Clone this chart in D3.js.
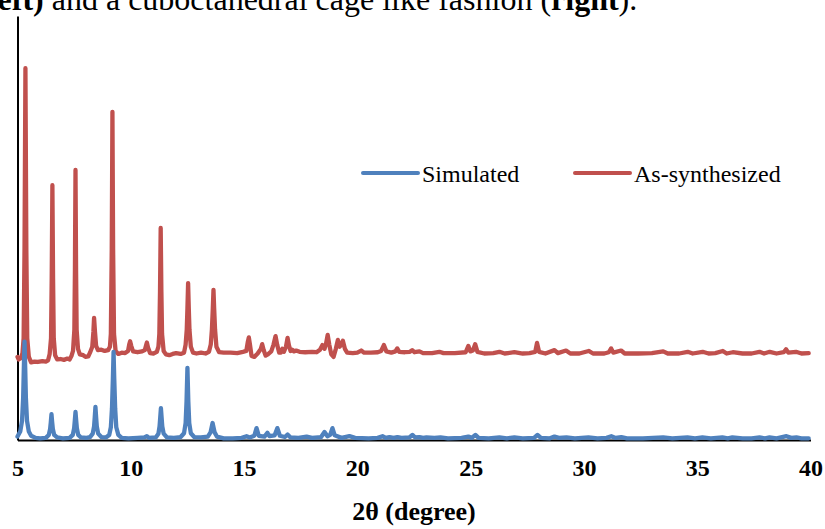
<!DOCTYPE html>
<html>
<head>
<meta charset="utf-8">
<script src="https://cdn.jsdelivr.net/npm/d3@7"></script>
<style>
  html, body { margin: 0; padding: 0; background: #fff; overflow: hidden; }
  svg { display: block; }
</style>
</head>
<body>
<svg id="chart" width="825" height="529"></svg>
<script>
// Powder XRD patterns: 2θ (degrees) vs. intensity (arbitrary units, stacked)
const seriesNames = ["Simulated", "As-synthesized"];
const seriesColors = ["#4F81BD", "#C0504D"];
const xTicks = [5, 10, 15, 20, 25, 30, 35, 40];
const xTitle = "2θ (degree)";

// Simulated pattern [2θ, intensity]
const simulated = [
  [5.00, 0.8], [5.12, 2.0], [5.20, 4.5], [5.25, 10], [5.28, 17], [5.31, 23.2], [5.34, 17], [5.37, 10],
  [5.42, 4.5], [5.50, 2.0], [5.60, 1.0], [5.80, 0.5], [6.00, 0.4], [6.25, 0.5], [6.38, 1.2], [6.44, 2.6],
  [6.47, 4.2], [6.50, 6.1], [6.53, 4.2], [6.56, 2.6], [6.62, 1.2], [6.75, 0.6], [7.00, 0.4], [7.30, 0.5],
  [7.44, 1.2], [7.50, 2.8], [7.53, 4.6], [7.56, 6.6], [7.59, 4.6], [7.62, 2.8], [7.68, 1.2], [7.80, 0.6],
  [8.05, 0.5], [8.20, 0.7], [8.32, 1.5], [8.38, 3.2], [8.41, 5.4], [8.44, 7.8], [8.47, 5.4], [8.50, 3.2],
  [8.56, 1.5], [8.70, 0.7], [8.90, 0.6], [9.05, 1.2], [9.12, 3.0], [9.17, 7.5], [9.21, 14.5], [9.24, 20.8],
  [9.27, 14.5], [9.31, 7.5], [9.36, 3.0], [9.45, 1.2], [9.60, 0.5], [9.90, 0.4], [10.30, 0.5], [10.60, 0.6],
  [10.71, 0.9], [10.80, 0.5], [11.10, 0.6], [11.22, 1.5], [11.27, 3.2], [11.30, 5.3], [11.33, 7.5], [11.36, 5.3],
  [11.39, 3.2], [11.45, 1.5], [11.60, 0.6], [11.90, 0.5], [12.20, 0.7], [12.35, 1.6], [12.42, 4.0], [12.46, 9.0],
  [12.50, 17.0], [12.54, 9.0], [12.58, 4.0], [12.65, 1.6], [12.80, 0.7], [13.10, 0.6], [13.40, 0.8], [13.52, 1.8],
  [13.57, 3.0], [13.61, 4.0], [13.65, 3.0], [13.70, 1.8], [13.80, 0.8], [14.10, 0.4], [14.50, 0.4], [14.90, 0.5],
  [15.11, 0.9], [15.25, 0.6], [15.45, 1.0], [15.55, 2.8], [15.65, 1.0], [15.90, 0.8], [16.03, 1.7], [16.12, 0.9],
  [16.35, 1.1], [16.47, 2.8], [16.58, 1.0], [16.80, 0.7], [16.92, 1.3], [17.05, 0.6], [17.40, 0.5], [17.76, 0.8],
  [18.00, 0.5], [18.40, 0.7], [18.55, 1.9], [18.68, 0.9], [18.80, 1.2], [18.90, 2.8], [19.00, 1.1], [19.30, 0.5],
  [19.65, 0.9], [19.90, 0.5], [20.50, 0.4], [20.90, 0.5], [21.11, 0.9], [21.25, 0.5], [21.42, 0.7], [21.60, 0.5],
  [21.77, 0.7], [21.95, 0.5], [22.30, 0.6], [22.43, 1.2], [22.55, 0.6], [22.74, 0.7], [22.90, 0.5], [23.05, 0.6],
  [23.40, 0.5], [23.67, 0.6], [24.00, 0.4], [24.60, 0.5], [24.90, 0.8], [25.05, 0.5], [25.21, 1.2], [25.35, 0.5],
  [25.80, 0.4], [26.27, 0.6], [26.60, 0.4], [26.93, 0.6], [27.30, 0.4], [27.80, 0.5], [27.95, 1.2], [28.10, 0.5],
  [28.50, 0.4], [28.70, 0.8], [28.90, 0.5], [29.23, 0.6], [29.60, 0.4], [30.20, 0.6], [30.60, 0.4], [31.00, 0.5],
  [31.21, 0.9], [31.40, 0.5], [31.65, 0.7], [31.90, 0.4], [32.60, 0.4], [33.50, 0.6], [33.90, 0.4], [34.57, 0.6],
  [34.90, 0.4], [35.23, 0.6], [35.60, 0.4], [36.11, 0.6], [36.35, 0.4], [36.55, 0.6], [37.00, 0.4], [37.40, 0.4],
  [37.75, 0.6], [38.00, 0.4], [38.19, 0.6], [38.50, 0.4], [38.94, 0.9], [39.15, 0.5], [39.38, 0.6], [39.60, 0.4],
  [39.92, 0.4]
];

// As-synthesized pattern [2θ, intensity], offset above the simulated trace
const asSynthesized = [
  [5.00, 19.6], [5.05, 19.0], [5.15, 19.3], [5.22, 20.5], [5.27, 24], [5.31, 45], [5.35, 87.7], [5.39, 45],
  [5.43, 24], [5.50, 19.6], [5.60, 18.3], [5.75, 18.5], [5.90, 18.4], [6.10, 18.6], [6.25, 18.5], [6.35, 18.8],
  [6.42, 20.3], [6.48, 24], [6.51, 38], [6.54, 60.1], [6.57, 38], [6.60, 24], [6.66, 20.0], [6.75, 19.0],
  [6.90, 19.1], [7.05, 18.9], [7.20, 19.2], [7.30, 19.0], [7.38, 19.8], [7.45, 21.0], [7.51, 26], [7.535, 40],
  [7.56, 63.7], [7.585, 40], [7.61, 26], [7.67, 21.5], [7.75, 20.2], [7.90, 20.0], [8.00, 19.6], [8.12, 19.7],
  [8.20, 20.6], [8.30, 22.0], [8.35, 25.5], [8.38, 28.8], [8.42, 25.5], [8.47, 22.2], [8.55, 21.2], [8.70, 21.3],
  [8.85, 21.0], [9.00, 21.2], [9.08, 22.0], [9.12, 25], [9.16, 45], [9.19, 77.4], [9.22, 45], [9.26, 25],
  [9.33, 21.0], [9.45, 20.3], [9.60, 20.6], [9.75, 20.5], [9.88, 21.0], [9.93, 22.5], [9.97, 23.3], [10.02, 22.2],
  [10.10, 20.9], [10.30, 20.7], [10.50, 20.9], [10.62, 21.2], [10.67, 22.2], [10.71, 23.0], [10.76, 21.8], [10.85, 20.5],
  [11.00, 20.4], [11.15, 20.8], [11.22, 22.0], [11.26, 25], [11.29, 35], [11.32, 50.0], [11.35, 35], [11.38, 25],
  [11.45, 21.0], [11.55, 20.2], [11.70, 20.0], [11.85, 20.3], [12.00, 20.5], [12.20, 20.3], [12.35, 20.6], [12.42, 22.5],
  [12.47, 26], [12.50, 31], [12.53, 37.0], [12.56, 31], [12.59, 26], [12.65, 22.0], [12.75, 20.6], [12.90, 20.4],
  [13.10, 20.6], [13.30, 20.4], [13.45, 20.8], [13.53, 22.5], [13.58, 26], [13.62, 31], [13.65, 35.4], [13.68, 31],
  [13.72, 26], [13.78, 22.0], [13.90, 20.7], [14.10, 20.6], [14.40, 20.6], [14.70, 20.5], [14.95, 20.8], [15.10, 21.0],
  [15.16, 23.0], [15.21, 24.2], [15.26, 22.5], [15.33, 19.8], [15.45, 19.6], [15.60, 20.4], [15.74, 21.5], [15.80, 22.6],
  [15.86, 21.3], [15.95, 19.9], [16.05, 20.2], [16.20, 20.9], [16.30, 22.5], [16.39, 24.5], [16.46, 22.5], [16.55, 20.6],
  [16.62, 20.6], [16.69, 21.5], [16.76, 20.8], [16.85, 22.0], [16.92, 24.1], [16.98, 22.3], [17.05, 21.0], [17.12, 21.3],
  [17.20, 20.9], [17.30, 21.1], [17.45, 20.8], [17.70, 20.7], [18.00, 20.8], [18.20, 20.7], [18.35, 21.3], [18.46, 22.4],
  [18.55, 21.5], [18.62, 22.8], [18.69, 24.8], [18.76, 22.5], [18.85, 20.2], [18.95, 19.6], [19.05, 21.5], [19.14, 23.6],
  [19.22, 22.0], [19.28, 22.4], [19.36, 23.4], [19.45, 21.5], [19.55, 20.6], [19.80, 20.5], [20.00, 20.6], [20.17, 21.1],
  [20.30, 20.6], [20.60, 20.6], [20.90, 20.7], [21.05, 21.0], [21.17, 22.4], [21.28, 20.9], [21.50, 20.6], [21.68, 20.9],
  [21.76, 21.6], [21.85, 20.8], [22.10, 20.7], [22.32, 20.8], [22.42, 21.2], [22.52, 20.7], [22.74, 20.9], [22.90, 20.5],
  [23.30, 20.5], [23.62, 20.8], [23.80, 20.5], [24.30, 20.5], [24.78, 20.7], [24.90, 22.2], [24.99, 20.9], [25.10, 21.1],
  [25.20, 22.6], [25.30, 20.8], [25.60, 20.4], [26.00, 20.5], [26.27, 20.8], [26.50, 20.4], [26.93, 20.7], [27.30, 20.4],
  [27.60, 20.5], [27.85, 20.8], [27.93, 22.9], [28.02, 20.8], [28.30, 20.4], [28.70, 21.2], [28.85, 20.5], [29.21, 21.1],
  [29.40, 20.4], [29.80, 20.4], [30.21, 21.0], [30.40, 20.4], [30.90, 20.4], [31.10, 20.7], [31.20, 21.6], [31.30, 20.6],
  [31.64, 21.1], [31.80, 20.4], [32.40, 20.4], [33.00, 20.5], [33.50, 20.9], [33.70, 20.4], [34.20, 20.4], [34.58, 20.8],
  [34.80, 20.4], [35.24, 20.8], [35.50, 20.4], [35.80, 20.5], [36.13, 21.0], [36.30, 20.4], [36.57, 20.7], [37.00, 20.4],
  [37.40, 20.4], [37.75, 20.8], [37.95, 20.4], [38.20, 20.8], [38.50, 20.4], [38.82, 20.7], [38.92, 21.4], [39.02, 20.6],
  [39.36, 20.8], [39.60, 20.4], [39.92, 20.5]
];

const serif = "'Times New Roman', 'Liberation Serif', serif";
const svg = d3.select("#chart");

const x = d3.scaleLinear().domain([5, 40]).range([17.5, 810.5]);
const y = d3.scaleLinear().domain([0, 100]).range([440, 16]);

// Caption line from the surrounding document
const caption = svg.append("text")
  .attr("x", -22).attr("y", 10)
  .attr("font-family", serif).attr("font-size", 32).attr("fill", "#000");
caption.append("tspan").attr("font-weight", "bold").text("(left)");
caption.append("tspan").text(" and a cuboctahedral cage like fashion (");
caption.append("tspan").attr("font-weight", "bold").text("right");
caption.append("tspan").text(").");

// Axes
const xAxis = svg.append("g")
  .attr("transform", `translate(0,${y(0)})`)
  .call(d3.axisBottom(x).tickValues(xTicks).tickSize(0).tickPadding(19).tickFormat(d3.format("d")));
xAxis.select(".domain").attr("stroke", "#000").attr("stroke-width", 2);
xAxis.selectAll("text")
  .attr("font-family", serif).attr("font-size", 24).attr("font-weight", "bold").attr("fill", "#000");

const yAxis = svg.append("g")
  .attr("transform", `translate(${x(5)},0)`)
  .call(d3.axisLeft(y).tickValues([]).tickSizeOuter(0));
yAxis.select(".domain").attr("stroke", "#000").attr("stroke-width", 2);

svg.append("text")
  .attr("x", (x(5) + x(40)) / 2).attr("y", 520)
  .attr("text-anchor", "middle")
  .attr("font-family", serif).attr("font-size", 26).attr("font-weight", "bold")
  .text(xTitle);

// Traces (simulated drawn last so it sits on top)
const line = d3.line().x(d => x(d[0])).y(d => y(d[1]));
const traces = [asSynthesized, simulated];
const traceColors = [seriesColors[1], seriesColors[0]];
svg.append("g").selectAll("path")
  .data(traces)
  .join("path")
  .attr("d", line)
  .attr("fill", "none")
  .attr("stroke", (d, i) => traceColors[i])
  .attr("stroke-width", 4.3)
  .attr("stroke-linejoin", "round")
  .attr("stroke-linecap", "round");

// Legend
const legendX = [363, 575];
const legend = svg.append("g").selectAll("g")
  .data(seriesNames)
  .join("g")
  .attr("transform", (d, i) => `translate(${legendX[i]},173)`);
legend.append("line")
  .attr("x1", 0).attr("x2", 55).attr("y1", 0).attr("y2", 0)
  .attr("stroke", (d, i) => seriesColors[i])
  .attr("stroke-width", 4).attr("stroke-linecap", "round");
legend.append("text")
  .attr("x", 59).attr("y", 8.5)
  .attr("font-family", serif).attr("font-size", 24).attr("fill", "#000")
  .text(d => d);
</script>
</body>
</html>
